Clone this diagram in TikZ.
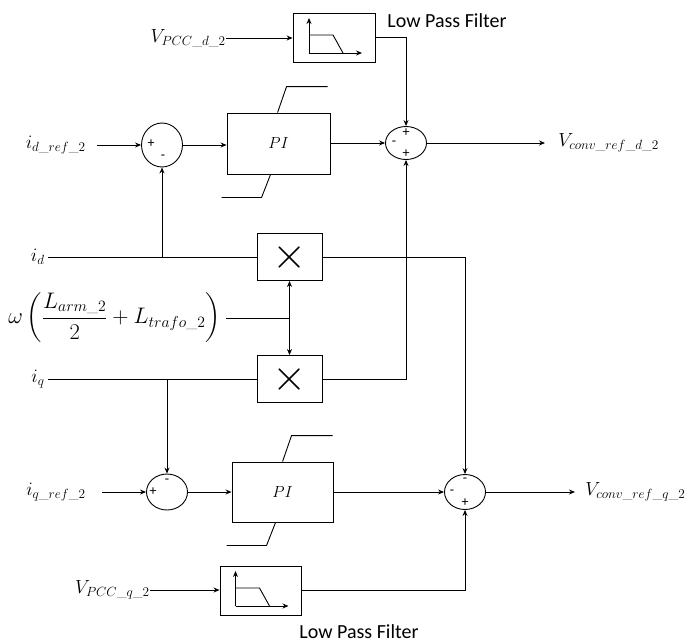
\RequirePackage{fix-cm}
\documentclass[tikz,border=0pt]{standalone}
\usepackage{amsmath}
\usepackage{fontspec}
\newfontfamily\lblfont{Carlito}
\usetikzlibrary{arrows.meta,shapes}

\begin{document}
\begin{tikzpicture}[x=1pt,y=-1pt,line width=0.9pt,>={Stealth[length=6pt,width=5pt]},
blk/.style={draw,minimum width=65pt,minimum height=47pt,inner sep=0pt},
sumnode/.style={draw,ellipse,minimum width=41pt,minimum height=35pt,inner sep=0pt},
lbl/.style={font=\fontsize{19}{22}\selectfont,inner sep=0pt},
lpftext/.style={font=\lblfont\fontsize{20}{22}\selectfont,inner sep=0pt},
sgn/.style={font=\lblfont\fontsize{14}{14}\selectfont,inner sep=0pt},
mul/.style={blk,font=\fontsize{44}{44}\selectfont}]
\useasboundingbox (0,0) rectangle (692,643);
\node[blk,minimum width=82pt,minimum height=49pt] (lpfd) at (334,37.5) {};
\node[lbl,anchor=east] (vpccd) at (226,38) {$V_{PCC\_d\_2}$};
\node[lpftext] (lpftxtd) at (447,21) {Low Pass Filter};
\node[sumnode,minimum height=44pt] (sumd) at (162,145) {};
\node[lbl,anchor=east] (idref) at (86,145) {$i_{d\_ref\_2}$};
\node[blk,minimum width=103pt,minimum height=61pt,font=\fontsize{16}{16}\selectfont] (pid) at (278.5,143.5) {$PI$};
\node[sumnode,minimum height=33pt] (sumvd) at (406,143) {};
\coordinate (outd) at (545,143);
\node[lbl,anchor=west] (vconvd) at (558,143) {$V_{conv\_ref\_d\_2}$};
\node[lbl,anchor=east] (id) at (45,257) {$i_d$};
\node[mul] (xd) at (289.5,257) {$\times$};
\node[lbl,anchor=west,font=\fontsize{22.5}{26}\selectfont] (wl) at (8,318) {$\omega\left(\dfrac{L_{arm\_2}}{2}+L_{trafo\_2}\right)$};
\node[mul] (xq) at (289.5,379) {$\times$};
\node[lbl,anchor=east] (iq) at (45,379) {$i_q$};
\node[sumnode,minimum height=36pt] (sumq) at (167,492) {};
\node[lbl,anchor=east] (iqref) at (86,492) {$i_{q\_ref\_2}$};
\node[blk,minimum width=101pt,minimum height=60pt,font=\fontsize{16}{16}\selectfont] (piq) at (282.5,492) {$PI$};
\node[sumnode] (sumvq) at (465,492) {};
\coordinate (outq) at (575,492);
\node[lbl,anchor=west] (vconvq) at (585,492) {$V_{conv\_ref\_q\_2}$};
\node[blk,minimum width=81pt,minimum height=49pt] (lpfq) at (260.5,590.5) {};
\node[lbl,anchor=east] (vpccq) at (150,590) {$V_{PCC\_q\_2}$};
\node[lpftext] (lpftxtq) at (359,632) {Low Pass Filter};
% signs in the summing points
\node[sgn] (sa) at (406,133) {+};
\node[sgn] (sb) at (394,143) {-};
\node[sgn] (sc) at (406,154) {+};
\node[sgn] (sd) at (151,144) {+};
\node[sgn] (se) at (163,157) {-};
\node[sgn] (sf) at (153,492) {+};
\node[sgn] (sg) at (167,481) {-};
\node[sgn] (sh) at (465,480) {-};
\node[sgn] (si) at (452,492) {-};
\node[sgn] (sj) at (465,503) {+};
% filter glyphs and PI limits
\foreach \f in {lpfd,lpfq}{
\draw[->] ([shift={(-25,15.5)}]\f.center) coordinate (o) -- ++(0,-35);
\draw[->] (o) -- ++(53,0);
\draw (o) ++(0,-18) -- ++(24,0) -- ++(10,18);
}
\foreach \p in {pid,piq}{
\draw ([xshift=51pt]\p.north west) -- ++(9,-26) -- ++(41,0);
\draw ([xshift=44pt]\p.south west) -- ++(-9,23) -- ++(-40,0);
}
\draw[->] (vpccd.east) -- (vpccd.east -| lpfd.west);
\draw[->] (lpfd.east) -| (sumvd.north);
\draw[->] ([xshift=11pt]idref.east) -- (sumd.west);
\draw[->] (sumd.east) -- (sumd -| pid.west);
\draw[->] (pid.east |- sumvd) -- (sumvd.west);
\draw[->] (sumvd.east) -- (outd);
\draw ([xshift=3pt]id.east) -- (xd.west);
\draw[->] (sumd |- xd) -- (sumd.south);
\draw ([xshift=3pt]iq.east) -- (xq.west);
\draw[->] (sumq |- xq) -- (sumq.north);
\draw[<->] (xd.south) -- (xq.north);
\draw ([xshift=5pt]wl.east) -- (xd.south |- wl.east);
\draw[->] (xd.east) -| (sumvq.north);
\draw[->] (xq.east) -| (sumvd.south);
\draw[->] ([xshift=16pt]iqref.east) -- (sumq.west);
\draw[->] (sumq.east) -- (sumq -| piq.west);
\draw[->] (piq.east |- sumvq) -- (sumvq.west);
\draw[->] (sumvq.east) -- (outq);
\draw[->] (vpccq.east) -- (vpccq.east -| lpfq.west);
\draw[->] (lpfq.east) -| (sumvq.south);
\end{tikzpicture}
\end{document}
